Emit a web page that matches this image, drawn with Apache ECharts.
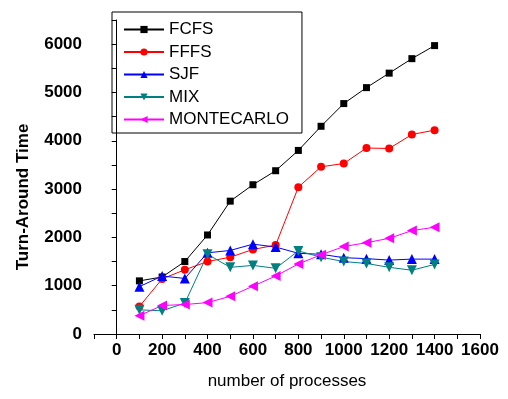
<!DOCTYPE html>
<html>
<head>
<meta charset="utf-8">
<script src="https://cdn.jsdelivr.net/npm/echarts@6/dist/echarts.min.js"></script>
<style>
  html, body { margin: 0; padding: 0; background: #fff; }
  #chart { width: 508px; height: 399px; }
</style>
</head>
<body>
<div id="chart"></div>
<script>
// number of processes
var processes = [100, 200, 300, 400, 500, 600, 700, 800, 900, 1000, 1100, 1200, 1300, 1400];
// turn-around time per algorithm
var fcfs = [1100, 1180, 1500, 2050, 2750, 3090, 3380, 3800, 4300, 4770, 5100, 5400, 5700, 5970];
var fffs = [570, 1140, 1330, 1500, 1590, 1750, 1840, 3040, 3460, 3530, 3850, 3840, 4130, 4220];
var sjf = [980, 1200, 1150, 1680, 1730, 1860, 1800, 1670, 1650, 1580, 1560, 1530, 1550, 1550];
var mix = [500, 480, 640, 1650, 1380, 1420, 1360, 1720, 1590, 1500, 1460, 1380, 1320, 1440];
var montecarlo = [380, 590, 610, 650, 780, 990, 1200, 1450, 1640, 1810, 1890, 1980, 2140, 2210];

var FONT = '"Liberation Sans", Arial, sans-serif';

function pairs(vals) {
  var out = [];
  for (var i = 0; i < processes.length; i++) out.push([processes[i], vals[i]]);
  return out;
}

function lineSeries(name, vals, color, symbol, size, rotate) {
  return {
    name: name,
    type: 'line',
    data: pairs(vals),
    symbol: symbol,
    symbolSize: size,
    symbolRotate: rotate || 0,
    showAllSymbol: true,
    animation: false,
    lineStyle: { color: color, width: 1 },
    itemStyle: { color: color }
  };
}

var chart = echarts.init(document.getElementById('chart'));
var option = {
  backgroundColor: '#fff',
  animation: false,
  grid: { left: 94, right: 28, top: 20, bottom: 65 },
  legend: {
    left: 112,
    top: 12,
    orient: 'vertical',
    borderColor: '#000',
    borderWidth: 1,
    padding: [9, 13, 5, 11],
    itemWidth: 40,
    itemHeight: 9,
    itemGap: 5.5,
    textStyle: { fontFamily: FONT, fontSize: 17, color: '#000' },
    data: ['FCFS', 'FFFS', 'SJF', 'MIX', 'MONTECARLO']
  },
  xAxis: {
    type: 'value',
    min: -100,
    max: 1600,
    interval: 100,
    name: 'number of processes',
    nameLocation: 'middle',
    nameGap: 39,
    nameTextStyle: { fontFamily: FONT, fontSize: 17, color: '#000' },
    axisLine: { onZero: false, lineStyle: { color: '#000', width: 1 } },
    axisTick: { length: 5, lineStyle: { color: '#000' } },
    axisLabel: {
      margin: 8,
      fontFamily: FONT, fontSize: 17, fontWeight: 'bold', color: '#000',
      formatter: function (v) { return (v >= 0 && v % 200 === 0) ? String(v) : ''; }
    },
    splitLine: { show: false }
  },
  yAxis: {
    type: 'value',
    min: 0,
    max: 6500,
    interval: 500,
    name: 'Turn-Around Time',
    nameLocation: 'middle',
    nameGap: 62,
    nameTextStyle: { fontFamily: FONT, fontSize: 17, fontWeight: 'bold', color: '#000', padding: [0, 40, 0, 0] },
    axisLine: { show: true, lineStyle: { color: '#000', width: 1 } },
    axisTick: { show: true, length: 5, lineStyle: { color: '#000' } },
    axisLabel: {
      margin: 12,
      fontFamily: FONT, fontSize: 17, fontWeight: 'bold', color: '#000',
      formatter: function (v) { return v % 1000 === 0 ? String(v) : ''; }
    },
    splitLine: { show: false }
  },
  series: [
    lineSeries('FCFS', fcfs, '#000000', 'rect', 7),
    lineSeries('FFFS', fffs, '#ff0000', 'circle', 8),
    lineSeries('SJF', sjf, '#0000ff', 'triangle', 10),
    lineSeries('MIX', mix, '#008080', 'triangle', 10, 180),
    lineSeries('MONTECARLO', montecarlo, '#ff00ff', 'triangle', 10, 90)
  ]
};
chart.setOption(option);
</script>
</body>
</html>
